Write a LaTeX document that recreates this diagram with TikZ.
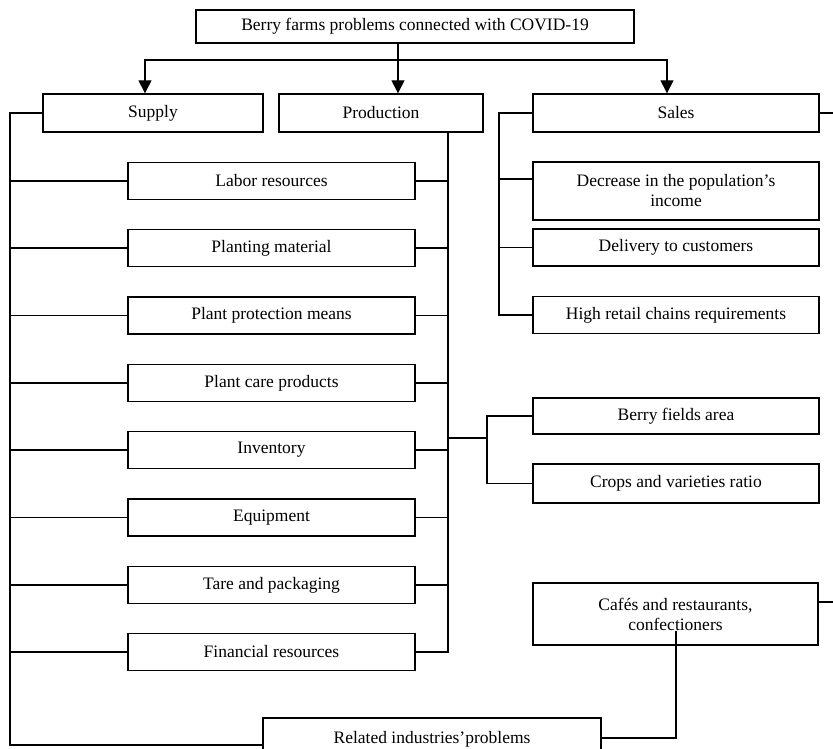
\documentclass[tikz,border=0pt]{standalone}
\usepackage{fontspec}
\setmainfont{Liberation Serif}
\usetikzlibrary{arrows.meta}

\tikzset{
  box/.style={draw, line width=1.4pt, inner sep=2pt, align=center,
    font=\fontsize{17.5}{20}\selectfont},
  leftbox/.style={box, minimum width=287pt, minimum height=37pt},
  rightbox/.style={box, minimum width=286pt, minimum height=37pt},
  wire/.style={line width=1.4pt},
  arr/.style={wire, -{Triangle[width=13pt,length=13pt]}}
}

\begin{document}
\begin{tikzpicture}[x=1pt,y=-1pt]
  \useasboundingbox (0,0) rectangle (833,749);
  \clip (0,0) rectangle (833,749);

  \node[box, minimum width=438pt, minimum height=33pt] (title) at (415,26.5)
    {Berry farms problems connected with COVID-19};

  \node[box, minimum width=220pt, minimum height=38pt] (supply) at (153,113) {Supply};
  \node[box, minimum width=204pt, minimum height=38pt] (prod) at (381,113) {Production};
  \node[rightbox, minimum height=38pt] (sales) at (676,113) {Sales};

  \node[leftbox] (labor) at (271.5,181) {Labor resources};
  \node[leftbox] (planting) at (271.5,248) {Planting material};
  \node[leftbox] (protect) at (271.5,315.5) {Plant protection means};
  \node[leftbox] (care) at (271.5,383) {Plant care products};
  \node[leftbox] (invent) at (271.5,450) {Inventory};
  \node[leftbox] (equip) at (271.5,517.5) {Equipment};
  \node[leftbox] (tare) at (271.5,585) {Tare and packaging};
  \node[leftbox] (finance) at (271.5,652) {Financial resources};

  \node[rightbox, minimum height=58pt] (income) at (676,191)
    {Decrease in the population’s\\income};
  \node[rightbox] (delivery) at (676,247.5) {Delivery to customers};
  \node[rightbox] (retail) at (676,315) {High retail chains requirements};

  \node[rightbox, minimum height=36pt] (berry) at (676,416) {Berry fields area};
  \node[rightbox, minimum height=39pt] (crops) at (676,483.5) {Crops and varieties ratio};

  \node[box, minimum width=285pt, minimum height=62pt] (cafes) at (675.5,614)
    {Cafés and restaurants,\\confectioners};
  \node[box, minimum width=338pt, minimum height=42pt] (related) at (432,739)
    {Related industries’problems};

  % top arrows
  \coordinate (hub) at (398,60);
  \draw[wire] (title.south -| hub) -- (hub);
  \draw[arr] (hub) -| ([xshift=-8pt]supply.north);
  \draw[arr] (hub) -- (prod.north -| hub);
  \draw[arr] (hub) -| ([xshift=-9pt]sales.north);

  % supply bus
  \coordinate (sbus) at (10,745);
  \draw[wire] (supply.west) -| (sbus) -- (sbus -| related.west);
  \draw[wire] (labor.west) -- (labor.west -| sbus);
  \draw[wire] (planting.west) -- (planting.west -| sbus);
  \draw[wire] (protect.west) -- (protect.west -| sbus);
  \draw[wire] (care.west) -- (care.west -| sbus);
  \draw[wire] (invent.west) -- (invent.west -| sbus);
  \draw[wire] (equip.west) -- (equip.west -| sbus);
  \draw[wire] (tare.west) -- (tare.west -| sbus);
  \draw[wire] (finance.west) -- (finance.west -| sbus);

  % production bus
  \coordinate (pbus) at (448,0);
  \draw[wire] (prod.south -| pbus) |- (finance.east);
  \draw[wire] (labor.east) -- (labor.east -| pbus);
  \draw[wire] (planting.east) -- (planting.east -| pbus);
  \draw[wire] (protect.east) -- (protect.east -| pbus);
  \draw[wire] (care.east) -- (care.east -| pbus);
  \draw[wire] (invent.east) -- (invent.east -| pbus);
  \draw[wire] (equip.east) -- (equip.east -| pbus);
  \draw[wire] (tare.east) -- (tare.east -| pbus);

  \coordinate (fork) at (487,438);
  \draw[wire] (fork -| pbus) -- (fork);
  \draw[wire] (berry.west) -| (fork);
  \draw[wire] (crops.west) -| (fork);

  % sales bus
  \coordinate (rbus) at (499,0);
  \draw[wire] (sales.west) -| (retail.west -| rbus) -- (retail.west);
  \draw[wire] ([yshift=12pt]income.west) -- ([yshift=12pt]income.west -| rbus);
  \draw[wire] (delivery.west) -- (delivery.west -| rbus);

  \coordinate (rim) at (833,0);
  \draw[wire] (sales.east) -- (sales.east -| rim);
  \draw[wire] ([yshift=12pt]cafes.east) -- ([yshift=12pt]cafes.east -| rim);

  \coordinate (cend) at (676,631);
  \draw[wire] ([yshift=1pt]related.east) -| (cend);
\end{tikzpicture}
\end{document}
